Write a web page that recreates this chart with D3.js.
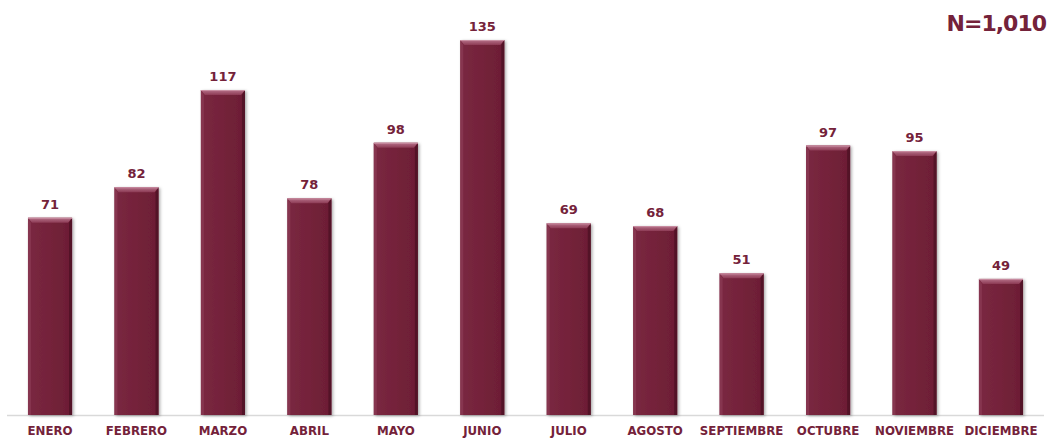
<!DOCTYPE html>
<html>
<head>
<meta charset="utf-8">
<script src="https://cdn.jsdelivr.net/npm/d3@7"></script>
<style>
  html, body { margin: 0; padding: 0; background: #ffffff; }
  svg { display: block; }
  text { font-family: "DejaVu Sans", Verdana, sans-serif; font-weight: bold; fill: #74223A; }
</style>
</head>
<body>
<svg id="chart" width="1050" height="438"></svg>
<script>
// Monthly counts
const months = ["ENERO", "FEBRERO", "MARZO", "ABRIL", "MAYO", "JUNIO",
                "JULIO", "AGOSTO", "SEPTIEMBRE", "OCTUBRE", "NOVIEMBRE", "DICIEMBRE"];
const counts = [71, 82, 117, 78, 98, 135, 69, 68, 51, 97, 95, 49];
const totalLabel = "N=1,010";

const baseY = 415;
const svg = d3.select("#chart");

const x = d3.scaleBand().domain(months).range([6.8, 1044.2])
  .paddingInner(0.49).paddingOuter(0.245);
const y = d3.scaleLinear().domain([0, 135]).range([baseY, 40]);

const defs = svg.append("defs");
const topGrad = defs.append("linearGradient").attr("id", "bevelTop")
  .attr("x1", 0).attr("y1", 0).attr("x2", 0).attr("y2", 1);
topGrad.append("stop").attr("offset", "0%").attr("stop-color", "#b7728a");
topGrad.append("stop").attr("offset", "100%").attr("stop-color", "#8c3a54");

const bodyGrad = defs.append("linearGradient").attr("id", "bodyFill")
  .attr("x1", 0).attr("y1", 0).attr("x2", 1).attr("y2", 0);
bodyGrad.append("stop").attr("offset", "0%").attr("stop-color", "#7a2841");
bodyGrad.append("stop").attr("offset", "50%").attr("stop-color", "#74223A");
bodyGrad.append("stop").attr("offset", "100%").attr("stop-color", "#6c1e35");

const shadow = defs.append("filter").attr("id", "shadow")
  .attr("x", "-20%").attr("y", "-5%").attr("width", "140%").attr("height", "115%");
shadow.append("feDropShadow").attr("dx", 1.5).attr("dy", 1).attr("stdDeviation", 1.5)
  .attr("flood-color", "#000").attr("flood-opacity", 0.35);

// Baseline
svg.append("line")
  .attr("x1", 7).attr("x2", 1044)
  .attr("y1", baseY + 0.5).attr("y2", baseY + 0.5)
  .attr("stroke", "#d9d9d9").attr("stroke-width", 1.5);

const bev = 5;
const bars = svg.append("g").selectAll("g").data(months).join("g");

bars.each(function(m, i) {
  const g = d3.select(this);
  const x0 = x(m), w = x.bandwidth();
  const y0 = y(counts[i]), h = baseY - y0;
  g.append("rect")
    .attr("x", x0).attr("y", y0).attr("width", w).attr("height", h)
    .attr("fill", "url(#bodyFill)").attr("filter", "url(#shadow)");
  // left edge highlight
  g.append("path")
    .attr("d", `M${x0},${y0} L${x0 + 3},${y0 + bev} L${x0 + 3},${baseY} L${x0},${baseY} Z`)
    .attr("fill", "#8a3a52").attr("opacity", 0.8);
  // right edge shade
  g.append("path")
    .attr("d", `M${x0 + w},${y0} L${x0 + w - 3},${y0 + bev} L${x0 + w - 3},${baseY} L${x0 + w},${baseY} Z`)
    .attr("fill", "#4f1224").attr("opacity", 0.85);
  // top bevel
  g.append("path")
    .attr("d", `M${x0},${y0} L${x0 + w},${y0} L${x0 + w - 4},${y0 + bev} L${x0 + 4},${y0 + bev} Z`)
    .attr("fill", "url(#bevelTop)");
  g.append("line")
    .attr("x1", x0).attr("x2", x0 + w).attr("y1", y0 + 0.5).attr("y2", y0 + 0.5)
    .attr("stroke", "#c98ea2").attr("stroke-width", 1);
});

// Value labels
svg.append("g").selectAll("text").data(months).join("text")
  .attr("x", m => x(m) + x.bandwidth() / 2)
  .attr("y", (m, i) => y(counts[i]) - 9)
  .attr("text-anchor", "middle")
  .attr("font-size", 13)
  .text((m, i) => counts[i]);

// Month axis
const axis = svg.append("g").attr("transform", `translate(0,${baseY})`)
  .call(d3.axisBottom(x).tickSize(0).tickPadding(12));
axis.select(".domain").remove();
axis.selectAll("text")
  .attr("font-size", 11.8)
  .style("font-family", "'DejaVu Sans', Verdana, sans-serif")
  .style("font-weight", "bold")
  .attr("fill", "#74223A");

// Total
svg.append("text")
  .attr("x", 1046).attr("y", 31)
  .attr("text-anchor", "end")
  .attr("font-size", 22)
  .attr("letter-spacing", -1)
  .text(totalLabel);
</script>
</body>
</html>
